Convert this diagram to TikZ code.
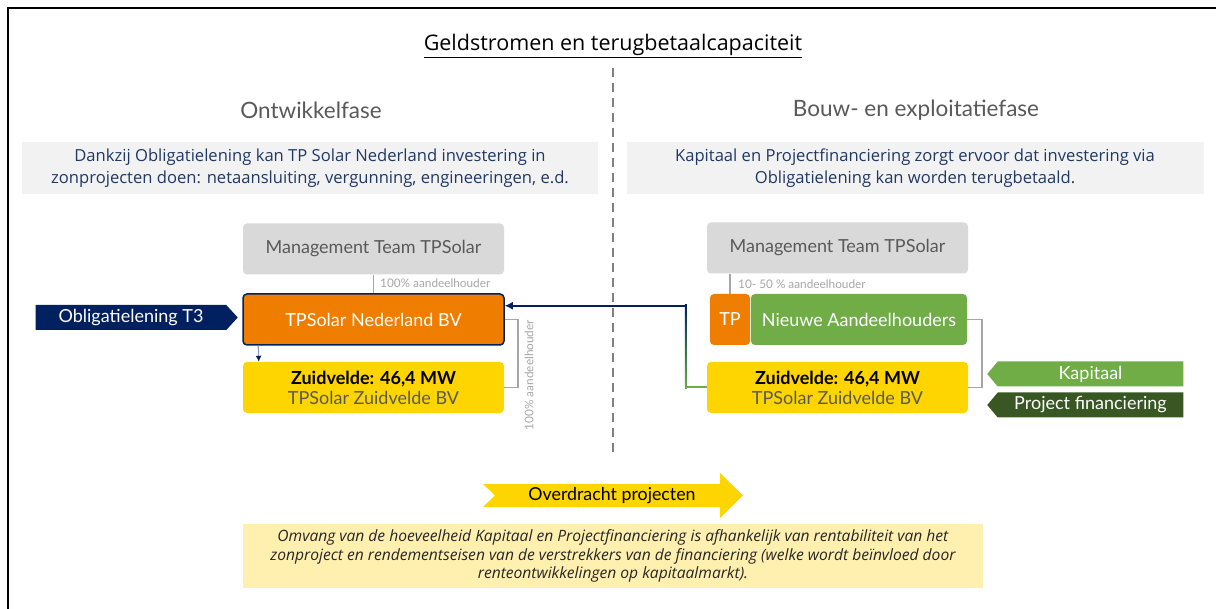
\documentclass[tikz,border=0pt]{standalone}
\usepackage{fontspec}
\setmainfont{Lato}
\newfontfamily\headfont{Open Sans}
\usetikzlibrary{arrows.meta}
\usetikzlibrary{shapes.symbols}
\usetikzlibrary{calc}

\definecolor{tpnavy}{HTML}{002060}
\definecolor{tporange}{HTML}{EF7D00}
\definecolor{tpgold}{HTML}{FFD500}
\definecolor{tpcream}{HTML}{FFF0B0}
\definecolor{tpgreen}{HTML}{70AD47}
\definecolor{tpdkgreen}{HTML}{385723}
\definecolor{tpgray}{HTML}{D9D9D9}
\definecolor{tplight}{HTML}{F2F2F2}
\definecolor{tptext}{HTML}{595959}
\definecolor{tplabel}{HTML}{A6A6A6}
\definecolor{tpblue}{HTML}{203864}
\definecolor{tpdash}{HTML}{808080}

\tikzset{
  entity/.style={rounded corners=4pt, minimum width=261pt, minimum height=51pt,
    inner sep=0pt, align=center, font=\fontsize{18}{20}\selectfont},
  mgmt/.style={entity, fill=tpgray, text=tptext},
  spv/.style={entity, fill=tpgold, text=tptext},
  infobox/.style={fill=tplight, text=tpblue, minimum height=52pt, inner sep=0pt,
    align=center, font=\headfont\fontsize{16.6}{21.5}\selectfont},
  phase/.style={text=tptext, font=\fontsize{22.5}{26}\selectfont},
  share/.style={text=tplabel, font=\fontsize{11.8}{13}\selectfont, inner sep=0pt},
  bracket/.style={draw=tplabel, line width=1.5pt},
  flow/.style={signal, signal from=nowhere, minimum height=25pt, inner sep=0pt, text=white,
    font=\fontsize{18}{20}\selectfont},
}

\begin{document}
\begin{tikzpicture}[x=1pt, y=-1pt]
\useasboundingbox (0,0) rectangle (1216,609); % page size
\draw [line width=2pt] (8,609) -- (8,8) -- (1216,8);

\node (title) at (613,46) [font=\headfont\fontsize{21.5}{24}\selectfont] {\underline{Geldstromen en terugbetaalcapaciteit}};
\coordinate (divtop) at (613,68);
\coordinate (divbot) at (613,454);
\draw [tpdash, line width=2pt, dash pattern=on 9pt off 6pt] (divtop) -- (divbot);

% Ontwikkelfase
\node (phaseL) at (311,110) [phase] {Ontwikkelfase};
\node (infoL) at (310,168) [infobox, minimum width=576pt]
  {Dankzij Obligatielening kan TP Solar Nederland investering in\\
   zonprojecten doen: netaansluiting, vergunning, engineeringen, e.d.};
\node (mtL) at (373.5,249) [mgmt] {Management Team TPSolar};
\node (nl) at (373.5,319.5) [entity, fill=tporange, text=white, draw=tpnavy, line width=1.5pt] {TPSolar Nederland BV};
\node (zl) at (373.5,387.5) [spv] {{\color{black}\bfseries Zuidvelde: 46,4 MW}\\TPSolar Zuidvelde BV};
\node (oblig) at (131,317.5) [flow, fill=tpnavy, minimum width=202pt, signal to=east, signal pointer angle=95] {Obligatielening T3};

\draw [tplabel, line width=1.5pt] (mtL) -- (nl);
\node (shareL) at (380,283) [share, anchor=west] {100\% aandeelhouder};
\draw [tpnavy!45, line width=1.2pt, -{Latex[color=tpnavy, length=6pt, width=6pt]}]
  ($(nl.south west)+(16,0)$) -- ($(zl.north west)+(16,0)$);
\draw [bracket] (nl.east) -- ++(13,0) |- (zl.east);
\node (shareV) at (529,375) [share, rotate=90] {100\% aandeelhouder};

% Bouw- en exploitatiefase
\node (phaseR) at (916,110) [phase] {Bouw- en exploitatiefase};
\node (infoR) at (915,168) [infobox, minimum width=577pt]
  {Kapitaal en Projectfinanciering zorgt ervoor dat investering via\\
   Obligatielening kan worden terugbetaald.};
\node (mtR) at (837.5,248) [mgmt] {Management Team TPSolar};
\node (tp) at (730,319.5) [entity, fill=tporange, text=white, minimum width=40pt] {TP};
\node (new) at (859,319.5) [entity, fill=tpgreen, text=white, minimum width=216pt] {Nieuwe Aandeelhouders};
\node (zr) at (837.5,387.5) [spv] {{\color{black}\bfseries Zuidvelde: 46,4 MW}\\TPSolar Zuidvelde BV};
\node (kap) at (1090.5,374) [flow, fill=tpgreen, minimum width=196pt, signal to=west, signal pointer angle=100] {Kapitaal};
\node (pf) at (1090.5,405) [flow, fill=tpdkgreen, minimum width=196pt, signal to=west, signal pointer angle=100] {Project financiering};

\draw [tplabel, line width=1.5pt] (tp.north |- mtR.south) -- (tp.north);
\node (shareR) at (738,284) [share, anchor=west] {10- 50 \% aandeelhouder};
\draw [bracket] (new.east) -- ++(15,0) |- (zr.east);

% terugbetaling
\coordinate (turn) at ($(zr.west)+(-21,0)$);
\coordinate (in) at ($(nl.north east)+(0,12.5)$);
\draw [tpgreen, line width=2pt] (zr.west) -- ($(turn)+(-1,0)$);
\shade [top color=tpnavy, bottom color=tpgreen] ($(turn |- in)+(-1,-1)$) rectangle ($(turn)+(1,1)$);
\draw [tpnavy, line width=2pt, -{Latex[length=8pt, width=8pt]}] ($(turn |- in)+(1,0)$) -- (in);

% overdracht
\fill [tpgold] (483,484) -- (720,484) -- (720,473) -- (743,495.5) -- (720,518)
  -- (720,507) -- (483,507) -- (495,495.5) -- cycle;
\node (overdracht) at (612,495.5) [font=\fontsize{17.8}{20}\selectfont] {Overdracht projecten};
\node (note) at (613,556) [fill=tpcream, minimum width=740pt, minimum height=64pt, inner sep=0pt,
  align=center, text=black!85, font=\headfont\fontsize{15.6}{18.5}\selectfont\itshape]
  {Omvang van de hoeveelheid Kapitaal en Projectfinanciering is afhankelijk van rentabiliteit van het\\
   zonproject en rendementseisen van de verstrekkers van de financiering (welke wordt beïnvloed door\\
   renteontwikkelingen op kapitaalmarkt).};
\end{tikzpicture}
\end{document}
